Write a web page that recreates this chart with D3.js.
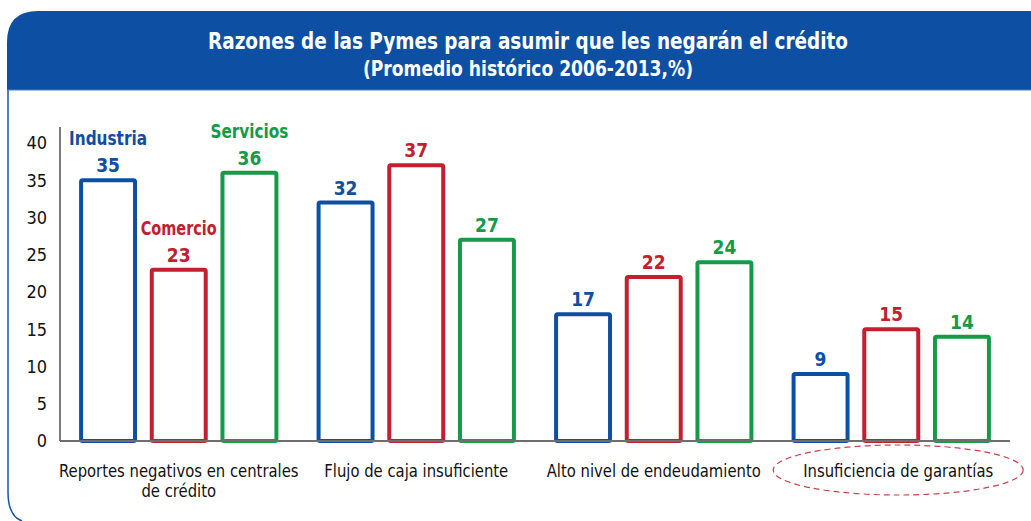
<!DOCTYPE html>
<html>
<head>
<meta charset="utf-8">
<script src="https://cdnjs.cloudflare.com/ajax/libs/d3/7.8.5/d3.min.js"></script>
<style>
  body { margin: 0; background: #fff; }
  svg { display: block; }
</style>
</head>
<body>
<div id="chart"></div>
<script>
// data
var categories = [
  ["Reportes negativos en centrales", "de crédito"],
  ["Flujo de caja insuficiente"],
  ["Alto nivel de endeudamiento"],
  ["Insuficiencia de garantías"]
];
var seriesNames = ["Industria", "Comercio", "Servicios"];
var industria = [35, 32, 17, 9];
var comercio = [23, 37, 22, 15];
var servicios = [36, 27, 24, 14];
var yTicks = [0, 5, 10, 15, 20, 25, 30, 35, 40];

var colors = ["#0d4fa2", "#c2202f", "#159a48"];
var W = 1031, H = 521;
var font = "'DejaVu Sans Condensed', 'DejaVu Sans', sans-serif";

var svg = d3.select("#chart").append("svg").attr("width", W).attr("height", H);

// panel frame + header
svg.append("path")
  .attr("d", "M8,90 L8,492 Q8,516 22,521")
  .attr("fill", "none").attr("stroke", "#1a55a8").attr("stroke-width", 1.5);
svg.append("path")
  .attr("d", "M7,90 L7,42 Q7,11 38,11 L1031,11 L1031,90 Z")
  .attr("fill", "#0d4fa2");
svg.append("line").attr("x1", 7).attr("x2", 1031).attr("y1", 90).attr("y2", 90)
  .attr("stroke", "#4f7fc4").attr("stroke-width", 1);

svg.append("text").attr("x", 528).attr("y", 49).attr("text-anchor", "middle")
  .attr("font-family", font).attr("font-weight", "bold").attr("font-size", 23)
  .attr("textLength", 640).attr("lengthAdjust", "spacingAndGlyphs")
  .attr("fill", "#fff").text("Razones de las Pymes para asumir que les negarán el crédito");
svg.append("text").attr("x", 528).attr("y", 76).attr("text-anchor", "middle")
  .attr("font-family", font).attr("font-weight", "bold").attr("font-size", 21)
  .attr("textLength", 330).attr("lengthAdjust", "spacingAndGlyphs")
  .attr("fill", "#fff").text("(Promedio histórico 2006-2013,%)");

// scales
var x0 = d3.scaleBand().domain(d3.range(categories.length)).range([60, 1010]).padding(0);
var x1 = d3.scaleBand().domain(seriesNames).range([0, x0.bandwidth()])
  .paddingInner(0.18).paddingOuter(0.27);
var y = d3.scaleLinear().domain([0, 40]).range([441, 143]);

var data = categories.map(function(c, i) {
  return {i: i, values: [industria[i], comercio[i], servicios[i]]};
});

// y axis
svg.append("line").attr("x1", 60).attr("x2", 60).attr("y1", 127).attr("y2", 441)
  .attr("stroke", "#222").attr("stroke-width", 1.2);
svg.append("g").selectAll("text").data(yTicks).enter().append("text")
  .attr("x", 47).attr("y", function(d) { return y(d); }).attr("dy", "0.36em")
  .attr("text-anchor", "end").attr("font-family", font).attr("font-size", 18)
  .attr("fill", "#111").text(function(d) { return d; });

// bars
var groups = svg.append("g").selectAll("g").data(data).enter().append("g")
  .attr("transform", function(d) { return "translate(" + x0(d.i) + ",0)"; });

var bars = groups.selectAll("g").data(function(d) {
  return d.values.map(function(v, k) { return {v: v, k: k, i: d.i}; });
}).enter().append("g");

bars.append("rect")
  .attr("x", function(d) { return x1(seriesNames[d.k]) + 2; })
  .attr("y", function(d) { return y(d.v); })
  .attr("width", x1.bandwidth() - 4)
  .attr("height", function(d) { return y(0) - y(d.v); })
  .attr("rx", 1.5)
  .attr("fill", "#fff").attr("stroke", function(d) { return colors[d.k]; })
  .attr("stroke-width", 4);

bars.append("text")
  .attr("x", function(d) { return x1(seriesNames[d.k]) + x1.bandwidth() / 2; })
  .attr("y", function(d) { return y(d.v) - 8; })
  .attr("text-anchor", "middle").attr("font-family", font).attr("font-weight", "bold")
  .attr("font-size", 19).attr("fill", function(d) { return colors[d.k]; })
  .text(function(d) { return d.v; });

// series names above first group
bars.filter(function(d) { return d.i === 0; }).append("text")
  .attr("x", function(d) { return x1(seriesNames[d.k]) + x1.bandwidth() / 2; })
  .attr("y", function(d) { return y(d.v) - 35; })
  .attr("text-anchor", "middle").attr("font-family", font).attr("font-weight", "bold")
  .attr("font-size", 19).attr("fill", function(d) { return colors[d.k]; })
  .attr("textLength", function(d) { return d.k === 1 ? 76 : 78; })
  .attr("lengthAdjust", "spacingAndGlyphs")
  .text(function(d) { return seriesNames[d.k]; });

// x axis line
svg.append("line").attr("x1", 60).attr("x2", 1010).attr("y1", 441).attr("y2", 441)
  .attr("stroke", "#6e6e6e").attr("stroke-width", 2);

// category labels (narrowed a bit to mimic the condensed face)
var labels = svg.append("g").selectAll("text").data(categories).enter().append("text")
  .attr("x", function(d, i) { return x0(i) + x0.bandwidth() / 2 + (i === 3 ? 7 : 0); })
  .attr("y", 477).attr("text-anchor", "middle").attr("font-family", font)
  .attr("font-size", 18).attr("fill", "#111");
labels.selectAll("text").data(function(d) { return d; }).enter().append("tspan")
  .attr("x", function() { return this.parentNode.getAttribute("x"); })
  .attr("dy", function(d, j) { return j ? 20 : 0; })
  .text(function(d) { return d; });
labels.each(function() {
  d3.select(this).selectAll("tspan").each(function() {
    var w = this.getComputedTextLength();
    d3.select(this).attr("textLength", w * 0.915).attr("lengthAdjust", "spacingAndGlyphs");
  });
});

// highlight ellipse
var last = categories.length - 1;
svg.append("ellipse")
  .attr("cx", x0(last) + x0.bandwidth() / 2 + 7).attr("cy", 470)
  .attr("rx", 125).attr("ry", 25)
  .attr("fill", "none").attr("stroke", "#d0404a").attr("stroke-width", 1.2)
  .attr("stroke-dasharray", "6,4");
</script>
</body>
</html>
